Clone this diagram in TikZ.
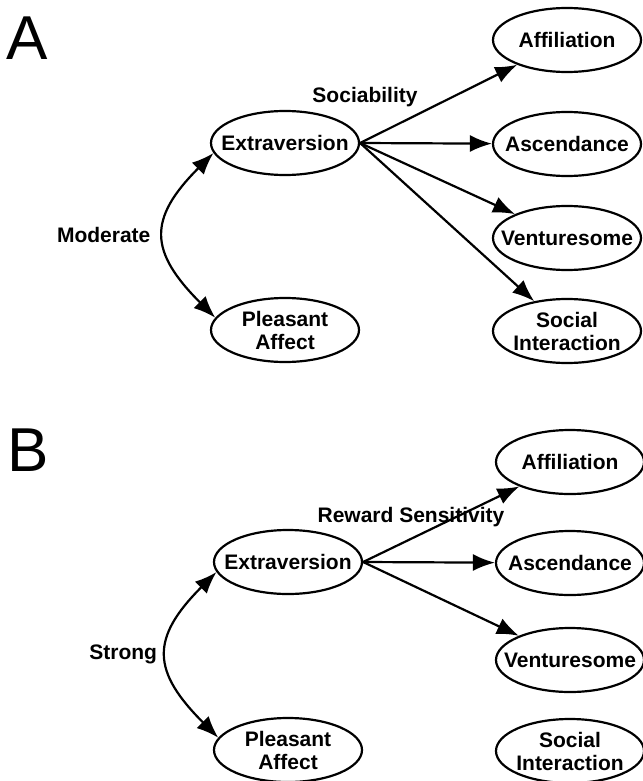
\documentclass[tikz,border=0pt]{standalone}
\usepackage{fontspec}
\setmainfont{Liberation Sans}
\usetikzlibrary{shapes.geometric,arrows.meta}
\begin{document}
\begin{tikzpicture}[x=1pt,y=1pt,>={Latex[length=22pt,width=17pt]},line width=2.2pt,
    trait/.style={ellipse,draw,minimum width=148pt,minimum height=64pt,inner xsep=-20pt,inner ysep=0pt,align=center,font=\bfseries\fontsize{21}{23}\selectfont},
    lbl/.style={font=\bfseries\fontsize{21}{23}\selectfont},
    panel/.style={font=\fontsize{62}{62}\selectfont}]
        \useasboundingbox (0,0) rectangle (642,-781);
        \node[panel] (pA) at (27,-38){A};
        \node[trait] (extA) at (285,-143){Extraversion};
        \node[trait] (plA) at (285,-330){Pleasant\\Affect};
        \node[trait] (affA) at (567,-40){Affiliation};
        \node[trait] (ascA) at (567,-144){Ascendance};
        \node[trait] (venA) at (567,-238){Venturesome};
        \node[trait] (socA) at (567,-331){Social\\Interaction};
        \foreach \t in {affA,ascA,venA,socA}
        {
            \draw[->] (extA.east)--(\t);
        }
        \node[lbl] (sociab) at (365,-97){Sociability};
        \draw[<->] (extA.188) to[out=225,in=135,looseness=1.45] node[left=10pt,lbl]{Moderate} (plA.170);
        \node[panel] (pB) at (28,-450){B};
        \node[trait] (extB) at (288,-562){Extraversion};
        \node[trait] (plB) at (288,-750){Pleasant\\Affect};
        \node[trait] (affB) at (570,-462){Affiliation};
        \node[trait] (ascB) at (570,-563){Ascendance};
        \node[trait] (venB) at (570,-660){Venturesome};
        \node[trait] (socB) at (570,-751){Social\\Interaction};
        \foreach \t in {affB,ascB,venB}
        {
            \draw[->] (extB.east)--(\t);
        }
        \node[lbl] (reward) at (411,-517){Reward Sensitivity};
        \draw[<->] (extB.188) to[out=225,in=135,looseness=1.45] node[left=6pt,lbl]{Strong} (plB.170);
    \end{tikzpicture}
\end{document}
